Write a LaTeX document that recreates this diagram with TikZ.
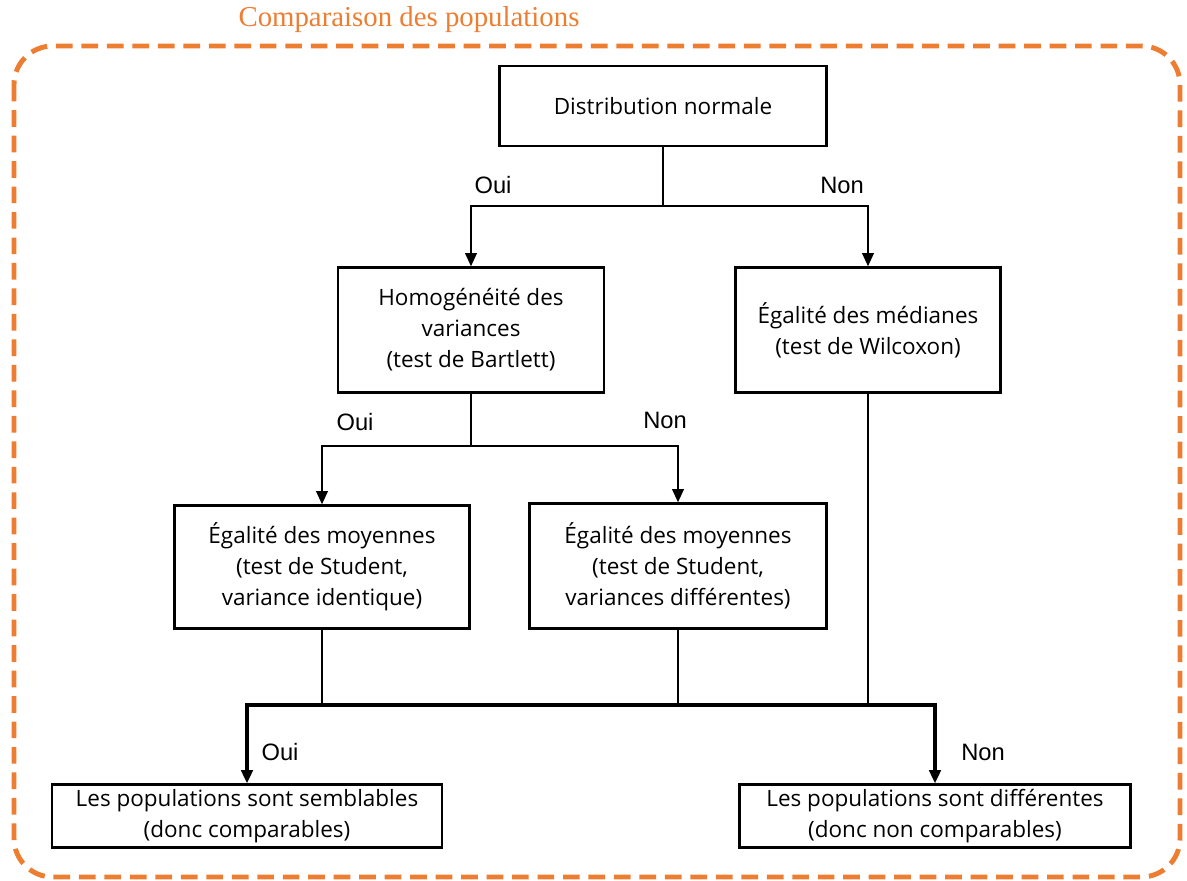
\documentclass[tikz,border=0pt]{standalone}
\usepackage{fontspec}
\setmainfont{Open Sans}
\newfontfamily\labelfont{Liberation Sans}
\newfontfamily\titlefont{Liberation Serif}
\usepackage{xcolor}
\usetikzlibrary{arrows.meta, positioning}
\definecolor{framecol}{HTML}{ED7D31}

\begin{document}
\begin{tikzpicture}[
    x=0.02cm, y=-0.02cm,
    stepbox/.style={rectangle, draw=black, line width=1.3pt, align=center, inner sep=0pt, font=\fontsize{12.8}{17.6}\selectfont},
    answer/.style={font=\labelfont\fontsize{13.5}{15}\selectfont},
    arrow/.style={-{Triangle[width=6.5pt,length=7.5pt]}, line width=1.3pt},
    link/.style={line width=1.3pt}
]
\useasboundingbox (0,0) rectangle (1187,881);

% Frame
\draw[framecol, line width=2.8pt, dash pattern=on 9.5pt off 5pt, rounded corners=22pt] (14,46) rectangle (1180,877);
\node[font=\titlefont\fontsize{16.4}{18}\selectfont, text=framecol] (title) at (409,20) {Comparaison des populations};

% Decision boxes
\node[stepbox, minimum width=6.54cm, minimum height=1.6cm] (normal) at (663,106) {Distribution normale};
\node[stepbox, minimum width=5.32cm, minimum height=2.5cm] (homog) at (471,330) {Homogénéité des\\variances\\(test de Bartlett)};
\node[stepbox, minimum width=5.3cm, minimum height=2.5cm] (median) at (868,330) {Égalité des médianes\\(test de Wilcoxon)};
\node[stepbox, minimum width=5.9cm, minimum height=2.46cm] (student) at (322,567) {Égalité des moyennes\\(test de Student,\\variance identique)};
\node[stepbox, minimum width=5.94cm, minimum height=2.5cm] (welch) at (678,566) {Égalité des moyennes\\(test de Student,\\variances différentes)};

% Conclusions
\node[stepbox, minimum width=7.8cm, minimum height=1.26cm] (same) at (247,816) {Les populations sont semblables\\(donc comparables)};
\node[stepbox, minimum width=7.82cm, minimum height=1.26cm] (diff) at (935,816) {Les populations sont différentes\\(donc non comparables)};

% Junctions
\coordinate (j1) at (663,206);
\coordinate (j2) at (471,446);
\coordinate (j3) at (868,705);

% Arrows - first split
\draw[link] (normal.south) -- (j1);
\draw[arrow] (j1) -| (homog.north);
\draw[arrow] (j1) -| (median.north);
\node[answer] (oui1) at (493,185) {Oui};
\node[answer] (non1) at (842,185) {Non};

% Arrows - second split
\draw[link] (homog.south) -- (j2);
\draw[arrow] (j2) -| (student.north);
\draw[arrow] (j2) -| (welch.north);
\node[answer] (oui2) at (355,422) {Oui};
\node[answer] (non2) at (665,420) {Non};

% Arrows - to conclusions
\draw[link] (student.south) |- (j3);
\draw[link] (welch.south) |- (j3);
\draw[link] (median.south) -- (j3);
\draw[arrow, line width=1.8pt] (j3) -| (same.north);
\draw[arrow, line width=1.8pt] (j3) -| (diff.north);
\node[answer] (oui3) at (280,752) {Oui};
\node[answer] (non3) at (983,752) {Non};

\end{tikzpicture}
\end{document}
